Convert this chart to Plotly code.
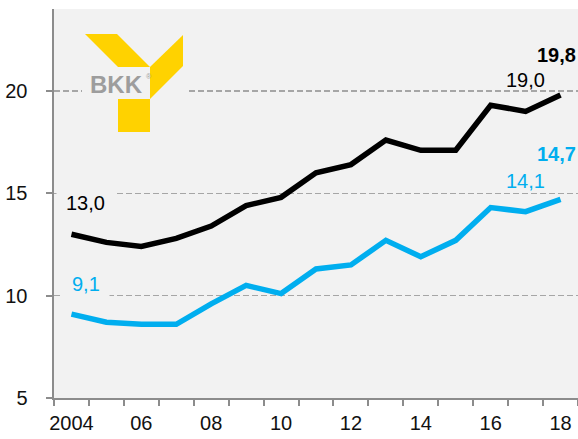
import plotly.graph_objects as go

years = list(range(2004, 2019))
black_values = [13.0, 12.6, 12.4, 12.8, 13.4, 14.4, 14.8, 16.0, 16.4, 17.6, 17.1, 17.1, 19.3, 19.0, 19.8]
blue_values = [9.1, 8.7, 8.6, 8.6, 9.6, 10.5, 10.1, 11.3, 11.5, 12.7, 11.9, 12.7, 14.3, 14.1, 14.7]
x_tickvals = [2004, 2006, 2008, 2010, 2012, 2014, 2016, 2018]
x_ticktext = ["2004", "06", "08", "10", "12", "14", "16", "18"]
y_tickvals = [5, 10, 15, 20]

BLACK = "#000000"
BLUE = "#00aeef"
BG = "#f2f2f2"
FONT = "Liberation Sans, Arial, sans-serif"
FS = 20

W, H = 578, 439
L, R, T, B = 54, 0, 9, 41
pw, ph = W - L - R, H - T - B


def px(x):  # screen pixel -> paper
    return (x - L) / pw


def py(y):
    return (H - B - y) / ph


def path(pts):
    return "M " + " L ".join(f"{px(a):.4f},{py(b):.4f}" for a, b in pts) + " Z"


fig = go.Figure()
fig.add_trace(go.Scatter(x=years, y=black_values, mode="lines",
                         line=dict(color=BLACK, width=5.5), hoverinfo="skip"))
fig.add_trace(go.Scatter(x=years, y=blue_values, mode="lines",
                         line=dict(color=BLUE, width=5.5), hoverinfo="skip"))

ann = []


def label(x, y, text, color, xs, ys, bold=False, bg=None, xanchor="center"):
    t = f"<b>{text}</b>" if bold else text
    d = dict(x=x, y=y, xref="x", yref="y", text=t, showarrow=False,
             xanchor=xanchor, yanchor="middle",
             xshift=xs, yshift=ys, font=dict(family=FONT, size=FS, color=color))
    if bg:
        d.update(bgcolor=bg, borderpad=9)
    ann.append(d)


label(years[0], black_values[0], "13,0", BLACK, 14, 31, bg=BG)
label(years[0], blue_values[0], "9,1", BLUE, 15, 30, bg=BG)
label(years[-2], black_values[-2], "19,0", BLACK, 0, 31)
label(years[-1], black_values[-1], "19,8", BLACK, 17, 40, bold=True, xanchor="right")
label(years[-2], blue_values[-2], "14,1", BLUE, 0, 31)
label(years[-1], blue_values[-1], "14,7", BLUE, 17, 45, bold=True, xanchor="right")

# BKK logo
YEL = "#ffd200"
shapes = [
    dict(type="rect", xref="paper", yref="paper", x0=px(82), x1=px(187), y0=py(136), y1=py(30),
         fillcolor=BG, line=dict(width=0), layer="above"),
    dict(type="path", xref="paper", yref="paper",
         path=path([(85, 34), (117, 34), (150, 67), (118, 67)]),
         fillcolor=YEL, line=dict(width=0), layer="above"),
    dict(type="path", xref="paper", yref="paper",
         path=path([(150, 67), (183, 35), (183, 66), (150, 99)]),
         fillcolor=YEL, line=dict(width=0), layer="above"),
    dict(type="rect", xref="paper", yref="paper", x0=px(118), x1=px(150), y0=py(132), y1=py(99),
         fillcolor=YEL, line=dict(width=0), layer="above"),
]
ann.append(dict(x=px(116), y=py(84), xref="paper", yref="paper", text="<b>BKK</b>",
                xanchor="center", yanchor="middle",
                showarrow=False, font=dict(family=FONT, size=24, color="#9d9d9d")))
ann.append(dict(x=px(149), y=py(76), xref="paper", yref="paper", text="®",
                xanchor="center", yanchor="middle",
                showarrow=False, font=dict(family=FONT, size=7, color="#9d9d9d")))

fig.update_layout(
    width=W, height=H,
    margin=dict(l=L, r=R, t=T, b=B, pad=0, autoexpand=False),
    paper_bgcolor="white", plot_bgcolor=BG,
    showlegend=False,
    annotations=ann, shapes=shapes,
    font=dict(family=FONT, size=FS, color="#111111"),
)
fig.update_xaxes(
    range=[2003.5, 2018.5], tickvals=x_tickvals, ticktext=x_ticktext,
    showgrid=False, zeroline=False, ticks="", ticklabelstandoff=6, automargin=False,
    showline=True, linecolor="#8c8c8c", linewidth=2,
    minor=dict(tickvals=[y + 0.5 for y in range(2003, 2019)], ticks="outside", ticklen=6,
               tickcolor="#8c8c8c", tickwidth=2, showgrid=False),
    tickfont=dict(family=FONT, size=FS, color="#111111"),
)
fig.update_yaxes(
    range=[5, 24], tickvals=y_tickvals, automargin=False,
    showgrid=True, gridcolor="#a6a6a6", griddash="6px,3px", gridwidth=1.5,
    zeroline=False, ticks="outside", ticklen=6, tickcolor="#8c8c8c", tickwidth=2,
    showline=True, linecolor="#8c8c8c", linewidth=2.5, ticklabelstandoff=14,
    tickfont=dict(family=FONT, size=FS, color="#111111"),
)

fig.write_html("out.html", config={"displayModeBar": False, "staticPlot": True},
               post_script="document.body.style.margin='0';document.body.style.overflow='hidden';")
